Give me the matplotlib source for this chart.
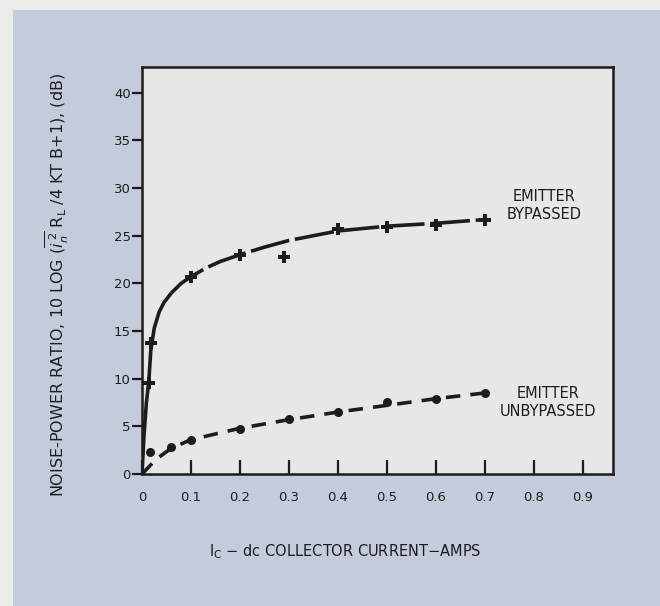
import matplotlib.pyplot as plt
from matplotlib.patches import Rectangle

# measured points (Ic in amps, noise-power ratio in dB)
byp_x = [0.014, 0.018, 0.1, 0.2, 0.29, 0.4, 0.5, 0.6, 0.7]
byp_y = [9.5, 13.7, 20.7, 23.0, 22.8, 25.7, 25.9, 26.1, 26.7]
unbyp_x = [0.016, 0.06, 0.1, 0.2, 0.3, 0.4, 0.5, 0.6, 0.7]
unbyp_y = [2.3, 2.8, 3.6, 4.7, 5.8, 6.5, 7.6, 7.9, 8.5]

# hand-drawn fitted curves
byp_curve_x = [0.0, 0.004, 0.009, 0.014, 0.018, 0.025, 0.035, 0.045, 0.06, 0.08, 0.1,
               0.13, 0.16, 0.2, 0.25, 0.3, 0.35, 0.4, 0.5, 0.6, 0.7]
byp_curve_y = [0.0, 4.0, 7.5, 9.8, 13.0, 15.3, 17.0, 18.0, 19.0, 20.0, 20.7,
               21.6, 22.3, 23.0, 23.8, 24.5, 25.0, 25.5, 26.0, 26.3, 26.7]
unbyp_curve_x = [0.0, 0.03, 0.06, 0.1, 0.15, 0.2, 0.3, 0.4, 0.5, 0.6, 0.7]
unbyp_curve_y = [0.0, 1.6, 2.7, 3.6, 4.2, 4.8, 5.7, 6.5, 7.2, 7.9, 8.5]

x_ticks = [0, 0.1, 0.2, 0.3, 0.4, 0.5, 0.6, 0.7, 0.8, 0.9]
x_labels = ['0', '0.1', '0.2', '0.3', '0.4', '0.5', '0.6', '0.7', '0.8', '0.9']
y_ticks = [0, 5, 10, 15, 20, 25, 30, 35, 40]

ink = '#1c1c1c'
plt.rcParams['font.family'] = ['DejaVu Sans']

fig = plt.figure(figsize=(6.6, 6.06), dpi=100)
fig.patch.set_facecolor('#ebebe8')
# blue-grey panel behind the plot
fig.patches.append(Rectangle((13 / 660, 0), 1, 1 - 10 / 606, transform=fig.transFigure,
                             facecolor='#c4ccdc', edgecolor='none', zorder=-5))

ax = fig.add_axes([142 / 660, 1 - 474 / 606, 471 / 660, 407 / 606])
ax.set_zorder(2)
ax.set_facecolor('#e7e7e5')
ax.set_xlim(0, 0.962)
ax.set_ylim(0, 42.7)

ax.plot(byp_curve_x[:9], byp_curve_y[:9], color=ink, lw=2.6, solid_capstyle='butt')
ax.plot(byp_curve_x[8:], byp_curve_y[8:], color=ink, lw=2.6, dashes=(11, 1.6))
ax.plot(unbyp_curve_x, unbyp_curve_y, color=ink, lw=2.6, dashes=(4, 2.8))

ax.plot(byp_x, byp_y, ls='none', marker='P', ms=8.5, color=ink, mew=0)
ax.plot(unbyp_x, unbyp_y, ls='none', marker='o', ms=6.5, color=ink, mew=0)

for s in ax.spines.values():
    s.set_linewidth(1.8)
    s.set_color(ink)

ax.set_xticks(x_ticks)
ax.set_xticklabels(x_labels)
ax.set_yticks(y_ticks)
ax.tick_params(axis='x', direction='in', length=10, width=1.6, pad=12,
               labelsize=9.5, colors=ink)
ax.tick_params(axis='y', direction='out', length=7, width=1.6, pad=1,
               labelsize=9.5, colors=ink)

ax.text(0.822, 28.2, 'EMITTER\nBYPASSED', ha='center', va='center', fontsize=10.5,
        color=ink, linespacing=1.25)
ax.text(0.829, 7.55, 'EMITTER\nUNBYPASSED', ha='center', va='center', fontsize=10.5,
        color=ink, linespacing=1.25)

fig.text(345 / 660, 1 - 552 / 606, r'I$_\mathrm{C}$ $-$ dc COLLECTOR CURRENT$-$AMPS',
         ha='center', va='center', fontsize=10.5, color=ink)
fig.text(57 / 660, 1 - 285 / 606,
         r'NOISE-POWER RATIO, 10 LOG $(\overline{i_n^{\,2}}$ R$_\mathrm{L}$ /4 KT B+1), (dB)',
         ha='center', va='center', rotation=90, fontsize=11.5, color=ink)

fig.savefig('out.png', dpi=100, facecolor=fig.get_facecolor())
